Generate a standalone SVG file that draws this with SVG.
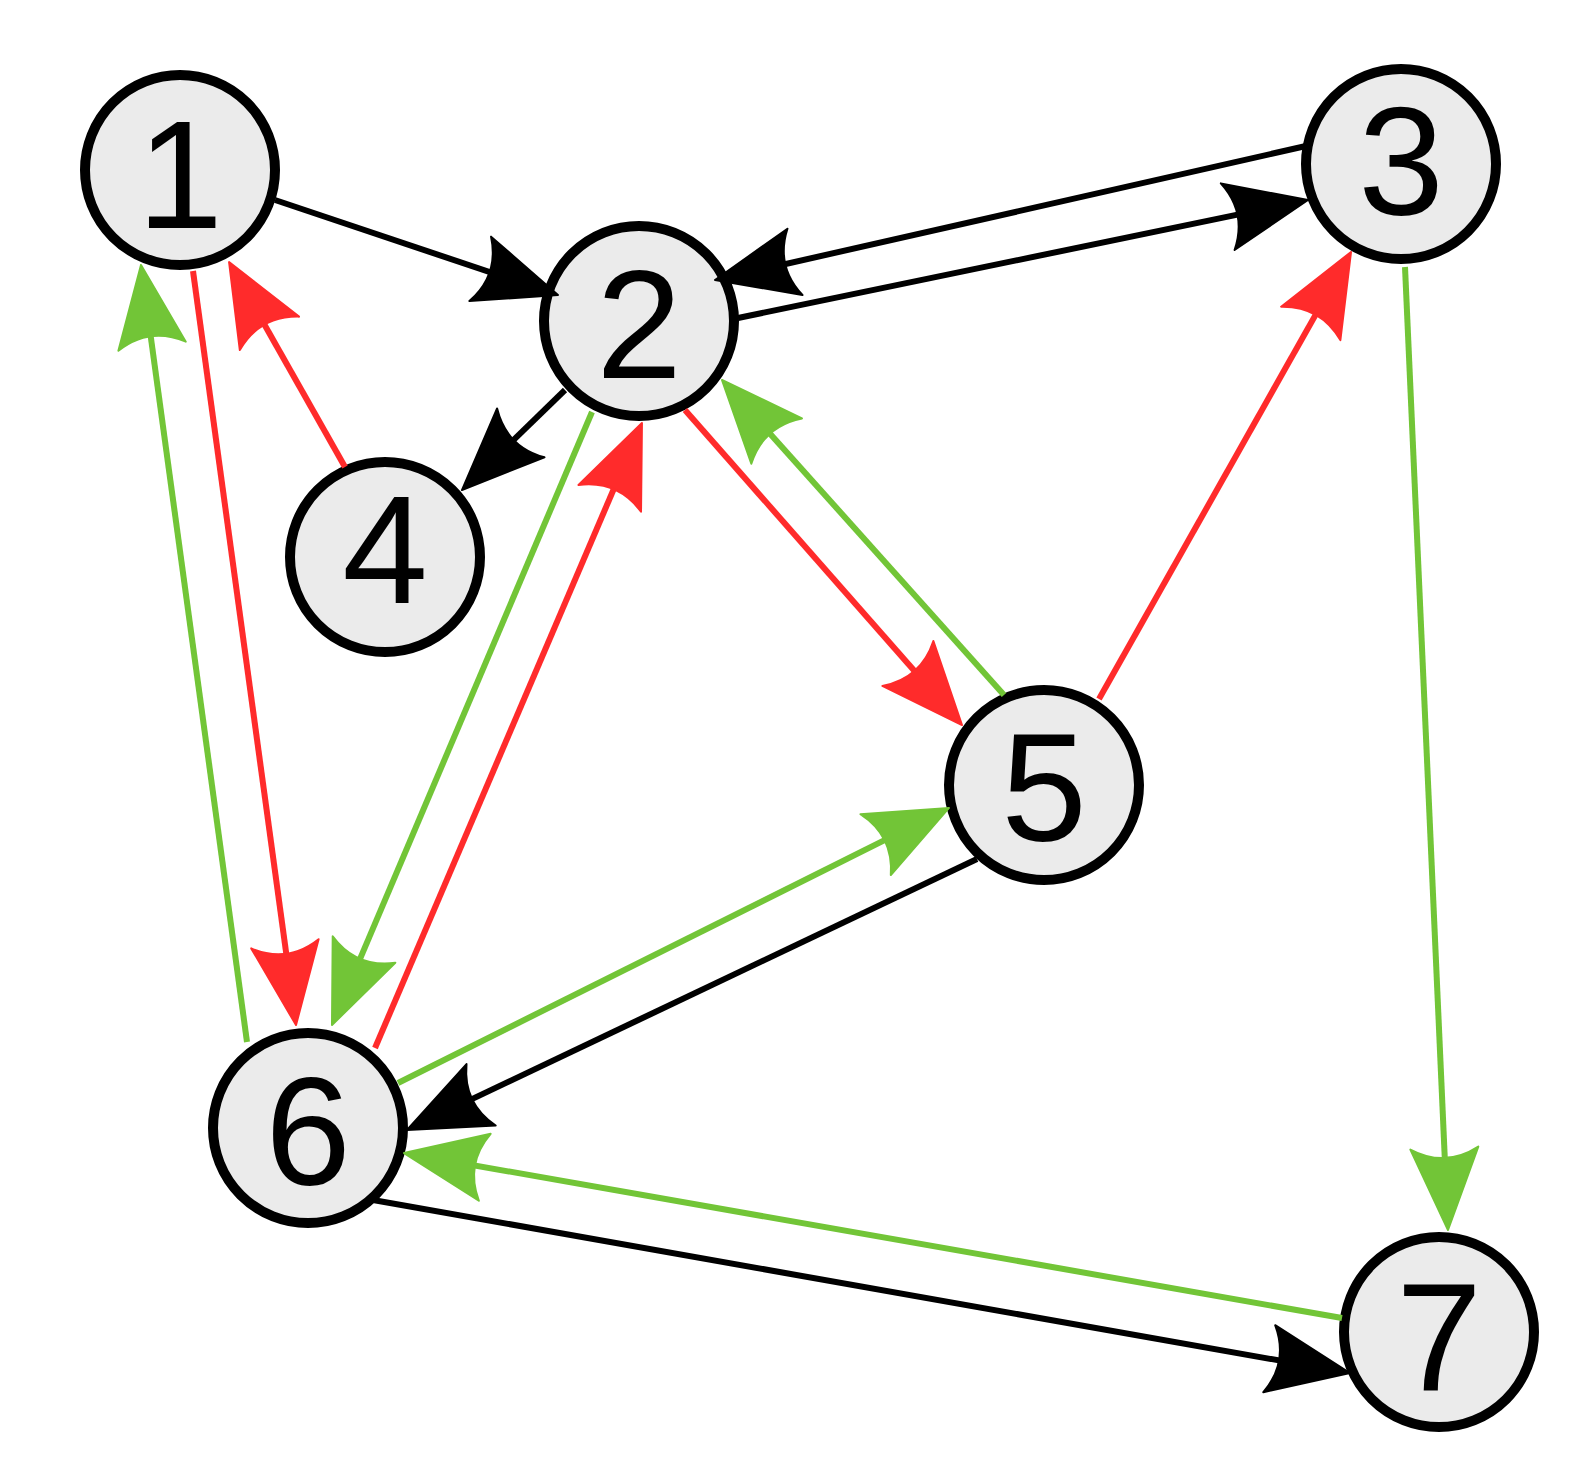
<svg xmlns="http://www.w3.org/2000/svg" width="1581" height="1481" viewBox="0 0 1581 1481">
<style>
.node circle{fill:#ebebeb;stroke:#000;stroke-width:10}
.node text{font-family:"Liberation Sans",Arial,sans-serif;font-size:154px;text-anchor:middle;fill:#000}
.e{stroke-width:6;fill:none}
.k{stroke:#000;marker-end:url(#ak)}
.r{stroke:#ff2b2b;marker-end:url(#ar)}
.g{stroke:#72c537;marker-end:url(#ag)}
</style>
<defs>
<path id="ah" d="M20,0 L-62,-34 Q-42,0 -62,34 Z" stroke-width="2" stroke-linejoin="round"/>
<marker id="ak" markerUnits="userSpaceOnUse" orient="auto" refX="0" refY="0" markerWidth="1" markerHeight="1" overflow="visible"><use href="#ah" fill="#000" stroke="#000"/></marker>
<marker id="ar" markerUnits="userSpaceOnUse" orient="auto" refX="0" refY="0" markerWidth="1" markerHeight="1" overflow="visible"><use href="#ah" fill="#ff2b2b" stroke="#ff2b2b"/></marker>
<marker id="ag" markerUnits="userSpaceOnUse" orient="auto" refX="0" refY="0" markerWidth="1" markerHeight="1" overflow="visible"><use href="#ah" fill="#72c537" stroke="#72c537"/></marker>
</defs>
<rect width="1581" height="1481" fill="#fff"/>
<g id="n1" class="node"><circle cx="180" cy="170" r="95"/><text x="180" y="228">1</text></g>
<g id="n2" class="node"><circle cx="639" cy="321" r="95"/><text x="639" y="378">2</text></g>
<g id="n3" class="node"><circle cx="1401" cy="164" r="95"/><text x="1401" y="215">3</text></g>
<g id="n4" class="node"><circle cx="385" cy="557" r="95"/><text x="385" y="603">4</text></g>
<g id="n5" class="node"><circle cx="1044" cy="785" r="95"/><text x="1044" y="841">5</text></g>
<g id="n6" class="node"><circle cx="308" cy="1128" r="95"/><text x="308" y="1185">6</text></g>
<g id="n7" class="node"><circle cx="1439" cy="1332" r="95"/><text x="1439" y="1391">7</text></g>
<g id="connectors">
<line class="e k" x1="275" y1="200" x2="539" y2="288.6"/>
<line class="e k" x1="1306" y1="146" x2="734.5" y2="275.6"/>
<line class="e k" x1="738" y1="318" x2="1288.4" y2="204.1"/>
<line class="e k" x1="565" y1="390" x2="476.3" y2="476.1"/>
<line class="e k" x1="977" y1="859" x2="425.1" y2="1121.4"/>
<line class="e k" x1="373" y1="1200" x2="1330.3" y2="1369.5"/>
<line class="e r" x1="193" y1="271" x2="293.3" y2="1005.2"/>
<line class="e r" x1="345" y1="467" x2="238.9" y2="279.4"/>
<line class="e r" x1="375" y1="1048" x2="634.1" y2="441.4"/>
<line class="e r" x1="685" y1="410" x2="948.8" y2="710"/>
<line class="e r" x1="1099" y1="699" x2="1341.2" y2="269.4"/>
<line class="e g" x1="247" y1="1042" x2="143.7" y2="284.8"/>
<line class="e g" x1="592" y1="412" x2="339.8" y2="1006.6"/>
<line class="e g" x1="1004" y1="695" x2="735.3" y2="394.9"/>
<line class="e g" x1="398" y1="1083" x2="931.1" y2="816.9"/>
<line class="e g" x1="1405" y1="267" x2="1447.1" y2="1210"/>
<line class="e g" x1="1342" y1="1318" x2="423.7" y2="1156.5"/>
</g>
</svg>
